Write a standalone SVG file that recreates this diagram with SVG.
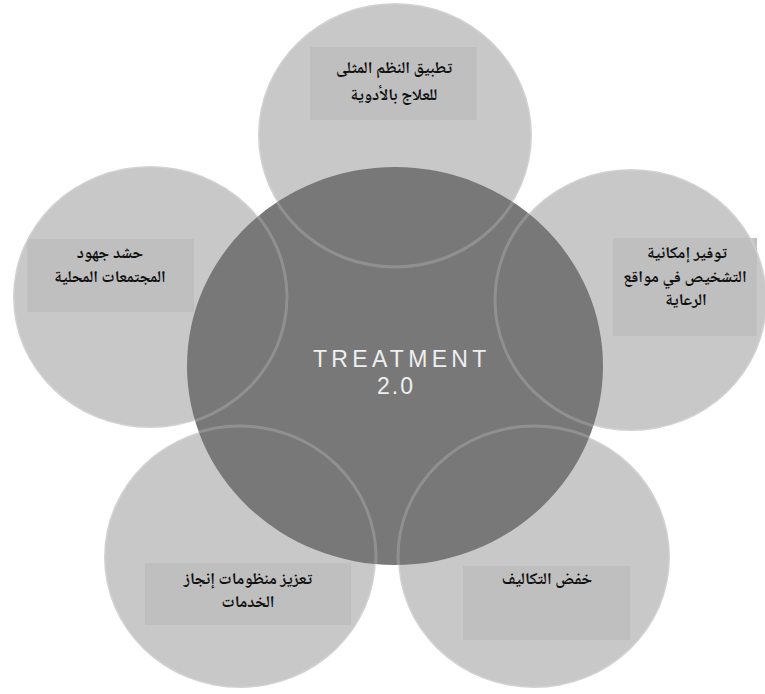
<svg xmlns="http://www.w3.org/2000/svg" xmlns:xlink="http://www.w3.org/1999/xlink" width="765" height="694" viewBox="0 0 765 694">
<style>
.petal{fill:#c8c8c8;}
.rim{fill:none;stroke:#ffffff;stroke-opacity:0.18;stroke-width:3;}
.box{fill:#bfbfbf;}
.ar{font-family:"Noto Naskh Arabic","DejaVu Sans",sans-serif;font-weight:bold;font-size:16.5px;fill:#111111;text-anchor:middle;}
.core{fill:#787878;}
.ct{font-family:"Liberation Sans","DejaVu Sans",sans-serif;font-size:23px;fill:#efefef;letter-spacing:4.3px;}
</style>
<defs>
<ellipse id="e-top" cx="395" cy="135" rx="137" ry="132"/>
<ellipse id="e-left" cx="150" cy="297" rx="137" ry="131"/>
<ellipse id="e-right" cx="631" cy="300" rx="136" ry="131"/>
<ellipse id="e-bl" cx="240" cy="557" rx="136" ry="131"/>
<ellipse id="e-br" cx="534" cy="557" rx="136" ry="131"/>
</defs>
<rect width="765" height="694" fill="#ffffff"/>
<g id="node-top">
<use xlink:href="#e-top" class="petal"/>
<rect class="box" x="310" y="47" width="167" height="73"/>
<text class="ar" x="394" y="73">تطبيق النظم المثلى</text>
<text class="ar" x="394" y="100">للعلاج بالأدوية</text>
</g>
<g id="node-left">
<use xlink:href="#e-left" class="petal"/>
<rect class="box" x="27" y="239" width="167" height="73"/>
<text class="ar" x="110" y="258">حشد جهود</text>
<text class="ar" x="110" y="282">المجتمعات المحلية</text>
</g>
<g id="node-right">
<use xlink:href="#e-right" class="petal"/>
<rect class="box" x="613" y="238" width="144" height="98"/>
<text class="ar" x="687" y="258">توفير إمكانية</text>
<text class="ar" x="685" y="282">التشخيص في مواقع</text>
<text class="ar" x="686" y="305">الرعاية</text>
</g>
<g id="node-bottom-left">
<use xlink:href="#e-bl" class="petal"/>
<rect class="box" x="145" y="563" width="206" height="62"/>
<text class="ar" x="248" y="584">تعزيز منظومات إنجاز</text>
<text class="ar" x="248" y="607">الخدمات</text>
</g>
<g id="node-bottom-right">
<use xlink:href="#e-br" class="petal"/>
<rect class="box" x="463" y="566" width="167" height="74"/>
<text class="ar" x="547" y="584">خفض التكاليف</text>
</g>
<g id="node-center">
<ellipse class="core" cx="395" cy="366" rx="208" ry="199"/>
<text class="ct" x="313" y="367">TREATMENT</text>
<text class="ct" x="396" y="394" text-anchor="middle" style="letter-spacing:2px">2.0</text>
</g>
<g id="rims">
<use xlink:href="#e-top" class="rim"/>
<use xlink:href="#e-left" class="rim"/>
<use xlink:href="#e-right" class="rim"/>
<use xlink:href="#e-bl" class="rim"/>
<use xlink:href="#e-br" class="rim"/>
</g>
<g id="connectors"/>
</svg>
